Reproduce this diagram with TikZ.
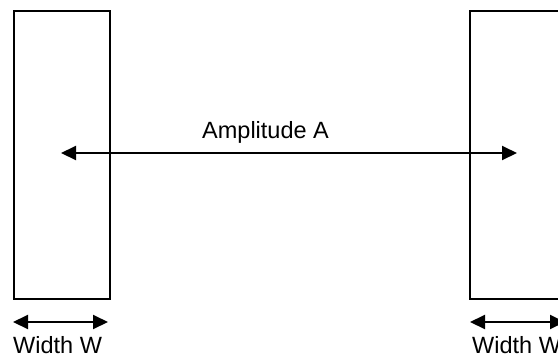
\documentclass[tikz,border=0pt]{standalone}
\usepackage{fontspec}
\setmainfont{Liberation Sans}
\usetikzlibrary{arrows.meta}
\begin{document}
\begin{tikzpicture}[x=1pt,y=-1pt,
  plate/.style={draw=black,line width=2pt,minimum width=96pt,minimum height=288pt,inner sep=0pt,anchor=north west},
  dim/.style={line width=2pt,{Triangle[length=15pt,width=14pt]}-{Triangle[length=15pt,width=14pt]}},
  lbl/.style={inner sep=0pt,anchor=base west,font=\fontsize{23.5pt}{28pt}\selectfont}]
\useasboundingbox (0,0) rectangle (558,357);
\clip (0,0) rectangle (558,357);
\node[plate] (L) at (13,10) {};
\node[plate] (R) at (469,10) {};
\coordinate (a1) at (61,153);
\coordinate (a2) at (517,153);
\draw[dim] (a1) -- (a2);
\node[lbl] (amp) at (202,138) {Amplitude A};
\coordinate (w1) at (13,322);
\coordinate (w2) at (108,322);
\draw[dim] (w1) -- (w2);
\coordinate (w3) at (470,322);
\coordinate (w4) at (565,322);
\draw[dim] (w3) -- (w4);
\node[lbl] (wl) at (13,353) {Width W};
\node[lbl] (wr) at (472,353) {Width W};
\end{tikzpicture}
\end{document}
